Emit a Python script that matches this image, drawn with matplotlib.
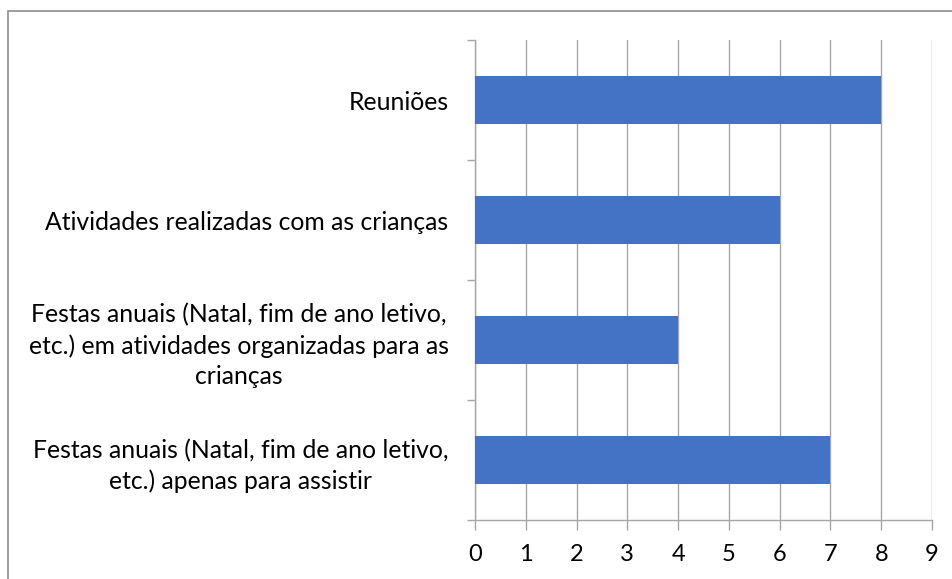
import matplotlib
matplotlib.use("Agg")
import matplotlib.pyplot as plt
from matplotlib.patches import Rectangle

categories = [
    "Festas anuais (Natal, fim de ano letivo,\netc.) apenas para assistir",
    "Festas anuais (Natal, fim de ano letivo,\netc.) em atividades organizadas para as\ncrianças",
    "Atividades realizadas com as crianças",
    "Reuniões",
]
values = [7, 4, 6, 8]
xticks = list(range(0, 10))

plt.rcParams['font.family'] = ['Lato', 'DejaVu Sans']

W, H = 953, 579
fig = plt.figure(figsize=(W / 100, H / 100), dpi=100)
ax = fig.add_axes([475 / W, 1 - 520 / H, (932 - 475) / W, (520 - 40) / H])

grid_c = '#a6a6a6'
ypos = list(range(len(categories)))
ax.barh(ypos, values, height=0.4, color='#4472C4', zorder=3)

ax.set_xlim(0, 9)
ax.set_ylim(-0.5, len(categories) - 0.5)
ax.set_xticks(xticks)
ax.set_xticklabels([str(t) for t in xticks], fontsize=17)
ax.set_yticks(ypos)
ax.set_yticklabels(categories, fontsize=17.8, multialignment='center', linespacing=1.38)
ax.set_yticks([i - 0.5 for i in range(len(categories) + 1)], minor=True)

ax.tick_params(axis='y', which='major', length=0, pad=19)
ax.tick_params(axis='y', which='minor', length=6, color=grid_c, width=1)
ax.tick_params(axis='x', which='major', length=7, color=grid_c, width=1, pad=10)

ax.grid(axis='x', color=grid_c, linewidth=1, zorder=0)
for s in ['top', 'right']:
    ax.spines[s].set_visible(False)
for s in ['left', 'bottom']:
    ax.spines[s].set_color(grid_c)
    ax.spines[s].set_linewidth(1)

fig.patches.append(Rectangle((8 / W, -0.1), 1.2, 1 - 11 / H + 0.1,
                             transform=fig.transFigure, fill=False,
                             edgecolor='#8c8c8c', linewidth=1.2))

fig.savefig('out.png', dpi=100)
